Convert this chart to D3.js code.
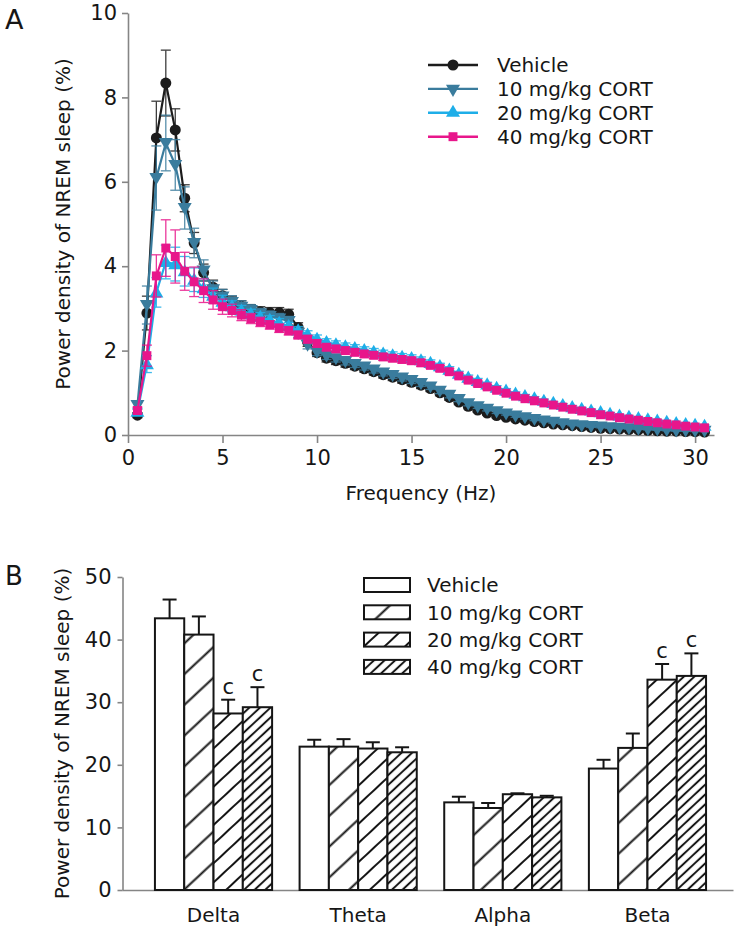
<!DOCTYPE html>
<html><head><meta charset="utf-8">
<script src="https://cdn.jsdelivr.net/npm/d3@7"></script>
<style>
body{margin:0;background:#fff}
svg{display:block}
text{font-family:"DejaVu Sans",sans-serif;fill:#161616}
</style>
</head><body>
<svg id="chart" width="740" height="931"></svg>
<script>
// ---------------- Panel A data ----------------
const frequencies = [0.5,1,1.5,2,2.5,3,3.5,4,4.5,5,
  5.5,6,6.5,7,7.5,8,8.5,9,9.5,10,
  10.5,11,11.5,12,12.5,13,13.5,14,14.5,15,
  15.5,16,16.5,17,17.5,18,18.5,19,19.5,20,
  20.5,21,21.5,22,22.5,23,23.5,24,24.5,25,
  25.5,26,26.5,27,27.5,28,28.5,29,29.5,30,
  30.5];
const seriesNames = ["Vehicle","10 mg/kg CORT","20 mg/kg CORT","40 mg/kg CORT"];
const vehicle = [0.47,2.89,7.04,8.34,7.23,5.61,4.55,3.85,3.50,3.30,
  3.15,3.05,2.97,2.92,2.90,2.90,2.86,2.55,2.20,1.95,
  1.82,1.76,1.70,1.63,1.57,1.50,1.43,1.37,1.31,1.25,
  1.18,1.10,1.00,0.89,0.78,0.68,0.59,0.52,0.46,0.42,
  0.38,0.35,0.32,0.29,0.26,0.24,0.22,0.20,0.18,0.16,
  0.15,0.14,0.13,0.12,0.11,0.10,0.09,0.09,0.08,0.08,
  0.07];
const cort10 = [0.71,3.08,6.09,6.92,6.40,5.38,4.55,3.90,3.45,3.28,
  3.15,3.04,2.96,2.88,2.82,2.76,2.70,2.42,2.14,1.97,
  1.88,1.82,1.75,1.68,1.62,1.55,1.48,1.42,1.36,1.30,
  1.23,1.15,1.05,0.95,0.85,0.75,0.68,0.62,0.56,0.51,
  0.46,0.42,0.38,0.34,0.31,0.28,0.25,0.23,0.21,0.20,
  0.18,0.17,0.16,0.15,0.14,0.13,0.12,0.11,0.11,0.10,
  0.10];
const cort20 = [0.55,1.68,3.38,4.10,4.05,3.88,3.68,3.48,3.30,3.16,
  3.05,2.95,2.87,2.80,2.73,2.66,2.58,2.48,2.38,2.28,
  2.20,2.15,2.10,2.06,2.01,1.97,1.93,1.89,1.85,1.82,
  1.77,1.71,1.63,1.55,1.45,1.36,1.28,1.20,1.12,1.05,
  0.98,0.92,0.87,0.81,0.76,0.71,0.66,0.62,0.58,0.54,
  0.50,0.46,0.43,0.40,0.37,0.34,0.31,0.28,0.26,0.24,
  0.22];
const cort40 = [0.58,1.88,3.77,4.43,4.23,3.88,3.63,3.42,3.20,3.04,
  2.95,2.84,2.76,2.68,2.61,2.53,2.47,2.37,2.27,2.17,
  2.08,2.04,2.00,1.96,1.92,1.89,1.85,1.82,1.79,1.76,
  1.71,1.65,1.58,1.50,1.40,1.30,1.22,1.14,1.06,0.99,
  0.92,0.86,0.81,0.76,0.71,0.66,0.61,0.57,0.53,0.48,
  0.45,0.41,0.38,0.35,0.32,0.29,0.26,0.24,0.21,0.19,
  0.17];
const vehicleSem = [0.06,0.40,0.87,0.78,0.50,0.32,0.25,0.20,0.17,0.15,
  0.14,0.13,0.12,0.12,0.12,0.12,0.12,0.11,0.10,0.09,
  0.09,0.09,0.09,0.08,0.08,0.08,0.08,0.08,0.08,0.08,
  0.08,0.07,0.07,0.07,0.06,0.06,0.05,0.05,0.05,0.04,
  0.04,0.04,0.04,0.03,0.03,0.03,0.03,0.03,0.03,0.03,
  0.02,0.02,0.02,0.02,0.02,0.02,0.02,0.02,0.02,0.02,
  0.02];
const cort10Sem = [0.10,0.45,0.76,0.66,0.60,0.50,0.35,0.25,0.20,0.17,
  0.15,0.14,0.13,0.12,0.12,0.12,0.11,0.11,0.10,0.09,
  0.09,0.09,0.09,0.08,0.08,0.08,0.08,0.08,0.08,0.08,
  0.08,0.07,0.07,0.07,0.06,0.06,0.05,0.05,0.05,0.04,
  0.04,0.04,0.04,0.03,0.03,0.03,0.03,0.03,0.03,0.03,
  0.02,0.02,0.02,0.02,0.02,0.02,0.02,0.02,0.02,0.02,
  0.02];
const cort20Sem = [0.08,0.20,0.35,0.40,0.40,0.35,0.28,0.22,0.18,0.15,
  0.13,0.12,0.11,0.10,0.10,0.10,0.09,0.09,0.09,0.09,
  0.08,0.08,0.08,0.08,0.08,0.08,0.08,0.08,0.08,0.08,
  0.08,0.07,0.07,0.07,0.06,0.06,0.06,0.05,0.05,0.05,
  0.04,0.04,0.04,0.04,0.03,0.03,0.03,0.03,0.03,0.03,
  0.03,0.03,0.02,0.02,0.02,0.02,0.02,0.02,0.02,0.02,
  0.02];
const cort40Sem = [0.08,0.25,0.50,0.67,0.63,0.45,0.35,0.28,0.22,0.18,
  0.15,0.13,0.12,0.11,0.10,0.10,0.10,0.09,0.09,0.09,
  0.08,0.08,0.08,0.08,0.08,0.08,0.08,0.08,0.08,0.08,
  0.08,0.07,0.07,0.07,0.06,0.06,0.06,0.05,0.05,0.05,
  0.04,0.04,0.04,0.04,0.03,0.03,0.03,0.03,0.03,0.03,
  0.03,0.03,0.02,0.02,0.02,0.02,0.02,0.02,0.02,0.02,
  0.02];
const xTicksA = [0,5,10,15,20,25,30];
const yTicksA = [0,2,4,6,8,10];

// ---------------- Panel B data ----------------
const bandNames = ["Delta","Theta","Alpha","Beta"];
const barVehicle = [43.4,22.9,14.0,19.4];
const bar10 = [40.8,22.9,13.1,22.7];
const bar20 = [28.2,22.6,15.3,33.6];
const bar40 = [29.2,22.0,14.8,34.2];
const errVehicle = [3.0,1.1,0.9,1.4];
const err10 = [2.9,1.2,0.8,2.3];
const err20 = [2.2,1.0,0.15,2.5];
const err40 = [3.2,0.8,0.25,3.6];
const sigVehicle = ["","","",""];
const sig10 = ["","","",""];
const sig20 = ["c","","","c"];
const sig40 = ["c","","","c"];
const yTicksB = [0,10,20,30,40,50];

// ---------------- Drawing ----------------
const svg = d3.select("#chart");
const defs = svg.append("defs");
const axisColor = "#858585";
const textColor = "#161616";

function styleAxis(g, fontSize) {
  g.attr("font-family", null).attr("font-size", null);
  g.select(".domain").attr("stroke", axisColor).attr("stroke-width", 1.6);
  g.selectAll(".tick line").attr("stroke", axisColor).attr("stroke-width", 1.6);
  g.selectAll(".tick text").attr("fill", textColor).style("font-size", fontSize + "px");
}

// Panel A
const xA = d3.scaleLinear().domain([0, 31]).range([128, 714]);
const yA = d3.scaleLinear().domain([0, 10]).range([435, 13]);

const gA = svg.append("g");
gA.append("g").attr("transform", "translate(0,435)")
  .call(d3.axisBottom(xA).tickValues(xTicksA).tickSize(8).tickSizeOuter(0).tickPadding(7))
  .call(g => styleAxis(g, 21));
gA.append("g").attr("transform", "translate(128,0)")
  .call(d3.axisLeft(yA).tickValues(yTicksA).tickSize(6).tickSizeOuter(0).tickPadding(5))
  .call(g => styleAxis(g, 21));

gA.append("text").attr("x", 5).attr("y", 29).style("font-size", "27px").text("A");
gA.append("text").attr("x", (xA.range()[0] + xA.range()[1]) / 2).attr("y", 500)
  .attr("text-anchor", "middle").style("font-size", "20px").text("Frequency (Hz)");
gA.append("text").attr("transform", `translate(63,${(yA.range()[0] + yA.range()[1]) / 2}) rotate(-90)`)
  .attr("text-anchor", "middle").attr("dy", "0.35em").style("font-size", "20px")
  .text("Power density of NREM sleep (%)");

const seriesA = [
  {name: seriesNames[0], values: vehicle, sem: vehicleSem, color: "#1c1c1c", symbol: d3.symbolCircle, size: 95, rot: 0},
  {name: seriesNames[1], values: cort10, sem: cort10Sem, color: "#3a7c9d", symbol: d3.symbolTriangle, size: 85, rot: 180},
  {name: seriesNames[2], values: cort20, sem: cort20Sem, color: "#1eaee8", symbol: d3.symbolTriangle, size: 85, rot: 0},
  {name: seriesNames[3], values: cort40, sem: cort40Sem, color: "#e8168b", symbol: d3.symbolSquare, size: 80, rot: 0}
];

const line = d3.line().x(d => xA(d.f)).y(d => yA(d.v));
seriesA.forEach(s => {
  const pts = frequencies.map((f, i) => ({f, v: s.values[i], e: s.sem[i]}));
  const g = gA.append("g");
  const eb = g.append("g").attr("stroke", s.color).attr("stroke-width", 1.3).attr("opacity", 0.85);
  pts.forEach(p => {
    eb.append("line").attr("x1", xA(p.f)).attr("x2", xA(p.f)).attr("y1", yA(p.v - p.e)).attr("y2", yA(p.v + p.e));
    eb.append("line").attr("x1", xA(p.f) - 5).attr("x2", xA(p.f) + 5).attr("y1", yA(p.v + p.e)).attr("y2", yA(p.v + p.e));
    eb.append("line").attr("x1", xA(p.f) - 5).attr("x2", xA(p.f) + 5).attr("y1", yA(p.v - p.e)).attr("y2", yA(p.v - p.e));
  });
  g.append("path").datum(pts).attr("d", line).attr("fill", "none").attr("stroke", s.color).attr("stroke-width", 2.2);
  const sym = d3.symbol().type(s.symbol).size(s.size);
  g.selectAll("path.m").data(pts).join("path").attr("class", "m")
    .attr("d", sym)
    .attr("transform", p => `translate(${xA(p.f)},${yA(p.v) + (s.rot ? -1 : (s.symbol === d3.symbolTriangle ? 1 : 0))}) rotate(${s.rot})`)
    .attr("fill", s.color);
});

// Legend A
const legA = gA.append("g");
seriesA.forEach((s, i) => {
  const y = 65 + i * 23.9;
  legA.append("line").attr("x1", 428).attr("x2", 478).attr("y1", y).attr("y2", y).attr("stroke", s.color).attr("stroke-width", 2.4);
  legA.append("path").attr("d", d3.symbol().type(s.symbol).size(s.size)())
    .attr("transform", `translate(453,${y}) rotate(${s.rot})`).attr("fill", s.color);
  legA.append("text").attr("x", 497).attr("y", y).attr("dy", "0.36em").style("font-size", "20px").text(s.name);
});

// Panel B
const yB = d3.scaleLinear().domain([0, 50]).range([890, 577]);
const xB = d3.scaleBand().domain(bandNames).range([122, 733]).paddingInner(0.19).paddingOuter(0.207).align(0.55);
const xSub = d3.scaleBand().domain(seriesNames).range([0, xB.bandwidth()]);

const gB = svg.append("g");
gB.append("g").attr("transform", "translate(0,890)")
  .call(d3.axisBottom(xB).tickSize(0).tickSizeOuter(0).tickPadding(18))
  .call(g => styleAxis(g, 20));
gB.append("g").attr("transform", "translate(122.5,0)")
  .call(d3.axisLeft(yB).tickValues(yTicksB).tickSize(5).tickSizeOuter(0).tickPadding(6))
  .call(g => styleAxis(g, 21));

gB.append("text").attr("x", 5).attr("y", 585).style("font-size", "26px").text("B");
gB.append("text").attr("transform", `translate(62,${(yB.range()[0] + yB.range()[1]) / 2}) rotate(-90)`)
  .attr("text-anchor", "middle").attr("dy", "0.35em").style("font-size", "20px")
  .text("Power density of NREM sleep (%)");

function hatch(id, spacing) {
  const p = defs.append("pattern").attr("id", id).attr("patternUnits", "userSpaceOnUse")
    .attr("width", spacing).attr("height", spacing).attr("patternTransform", "rotate(47)");
  p.append("rect").attr("width", spacing).attr("height", spacing).attr("fill", "#fff");
  p.append("line").attr("x1", spacing / 2).attr("x2", spacing / 2).attr("y1", -1).attr("y2", spacing + 1)
    .attr("stroke", "#151515").attr("stroke-width", 2);
}
hatch("h10", 22.5);
hatch("h20", 14);
hatch("h40", 7.2);

const seriesB = [
  {name: seriesNames[0], values: barVehicle, err: errVehicle, sig: sigVehicle, fill: "#ffffff"},
  {name: seriesNames[1], values: bar10, err: err10, sig: sig10, fill: "url(#h10)"},
  {name: seriesNames[2], values: bar20, err: err20, sig: sig20, fill: "url(#h20)"},
  {name: seriesNames[3], values: bar40, err: err40, sig: sig40, fill: "url(#h40)"}
];

seriesB.forEach(s => {
  const g = gB.append("g");
  bandNames.forEach((b, i) => {
    const x0 = xB(b) + xSub(s.name);
    const w = xSub.bandwidth();
    const v = s.values[i], e = s.err[i];
    const cx = x0 + w / 2;
    g.append("line").attr("x1", cx).attr("x2", cx).attr("y1", yB(v)).attr("y2", yB(v + e))
      .attr("stroke", "#151515").attr("stroke-width", 2);
    g.append("line").attr("x1", cx - 7).attr("x2", cx + 7).attr("y1", yB(v + e)).attr("y2", yB(v + e))
      .attr("stroke", "#151515").attr("stroke-width", 2);
    g.append("rect").attr("x", x0).attr("y", yB(v)).attr("width", w).attr("height", yB(0) - yB(v))
      .attr("fill", s.fill).attr("stroke", "#151515").attr("stroke-width", 2);
    if (s.sig[i]) {
      g.append("text").attr("x", cx).attr("y", yB(v + e) - 6).attr("text-anchor", "middle")
        .style("font-size", "21px").text(s.sig[i]);
    }
  });
});

// Legend B
const legB = gB.append("g");
seriesB.forEach((s, i) => {
  const y = 585 + i * 27.3;
  legB.append("rect").attr("x", 364).attr("y", y - 7).attr("width", 46).attr("height", 14)
    .attr("fill", s.fill).attr("stroke", "#151515").attr("stroke-width", 2);
  legB.append("text").attr("x", 427).attr("y", y).attr("dy", "0.36em").style("font-size", "20px").text(s.name);
});
</script>
</body></html>
